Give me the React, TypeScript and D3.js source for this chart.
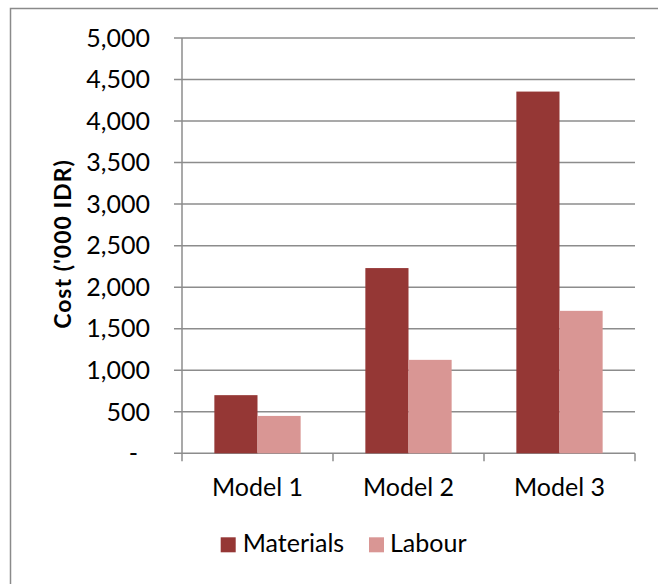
import React from "react";
import * as d3 from "d3";

const categories = ["Model 1", "Model 2", "Model 3"];
const seriesNames = ["Materials", "Labour"];
const materials = [700, 2230, 4355];
const labour = [450, 1125, 1715];
const yTicks = [0, 500, 1000, 1500, 2000, 2500, 3000, 3500, 4000, 4500, 5000];
const colors = ["#953735", "#D99694"];

const W = 658;
const H = 584;
const plot = { left: 182, right: 635, top: 38, bottom: 453.3 };
const FONT = "Lato, 'Liberation Sans', sans-serif";

export default function App() {
  const x = d3.scaleBand<string>().domain(categories).range([plot.left, plot.right]).paddingInner(0).paddingOuter(0);
  const y = d3.scaleLinear().domain([0, 5000]).range([plot.bottom, plot.top]);
  const bw = x.bandwidth();
  const barW = bw / 3.5;
  const x1 = d3.scaleBand<string>().domain(seriesNames).range([(bw - 2 * barW) / 2, (bw + 2 * barW) / 2]).padding(0);
  const data = [materials, labour];
  const fmt = d3.format(",");
  const grid = "#8c8c8c";

  return (
    <svg width={W} height={H} style={{ position: "absolute", left: 0, top: 0, background: "#fff" }}>
      <rect x={10.5} y={8.5} width={W + 10} height={H + 10} fill="#fff" stroke="#8a8a8a" strokeWidth={1.5} />
      {yTicks.map((t) => (
        <g key={t}>
          <line x1={plot.left - 8} x2={plot.right} y1={y(t)} y2={y(t)} stroke={grid} strokeWidth={1.5} />
          <text
            x={t === 0 ? 138 : 150}
            y={y(t)}
            dy="0.35em"
            textAnchor="end"
            fontFamily={FONT}
            fontSize={25}
            fill="#000"
          >
            {t === 0 ? "-" : fmt(t)}
          </text>
        </g>
      ))}
      <line x1={plot.left} x2={plot.left} y1={plot.top} y2={plot.bottom + 8} stroke={grid} strokeWidth={1.5} />
      {categories.map((c) => (
        <line key={c} x1={(x(c) as number) + bw} x2={(x(c) as number) + bw} y1={plot.bottom} y2={plot.bottom + 8} stroke={grid} strokeWidth={1.5} />
      ))}
      {data.map((vals, si) =>
        vals.map((v, ci) => (
          <rect
            key={`${si}-${ci}`}
            x={(x(categories[ci]) as number) + (x1(seriesNames[si]) as number)}
            y={y(v)}
            width={x1.bandwidth()}
            height={plot.bottom - y(v)}
            fill={colors[si]}
          />
        ))
      )}
      {categories.map((c) => (
        <text key={c} x={(x(c) as number) + bw / 2} y={496} textAnchor="middle" fontFamily={FONT} fontSize={25} fill="#000">
          {c}
        </text>
      ))}
      <text
        transform={`translate(70.5, 244) rotate(-90)`}
        textAnchor="middle"
        fontFamily={FONT}
        fontWeight="bold"
        fontSize={23}
        letterSpacing={1}
        fill="#000"
      >
        Cost ('000 IDR)
      </text>
      <g>
        <rect x={220.7} y={537.3} width={15} height={15} fill={colors[0]} />
        <text x={242.7} y={552} fontFamily={FONT} fontSize={25} fill="#000">{seriesNames[0]}</text>
        <rect x={369} y={537.3} width={15} height={15} fill={colors[1]} />
        <text x={390} y={552} fontFamily={FONT} fontSize={25} fill="#000">{seriesNames[1]}</text>
      </g>
    </svg>
  );
}
